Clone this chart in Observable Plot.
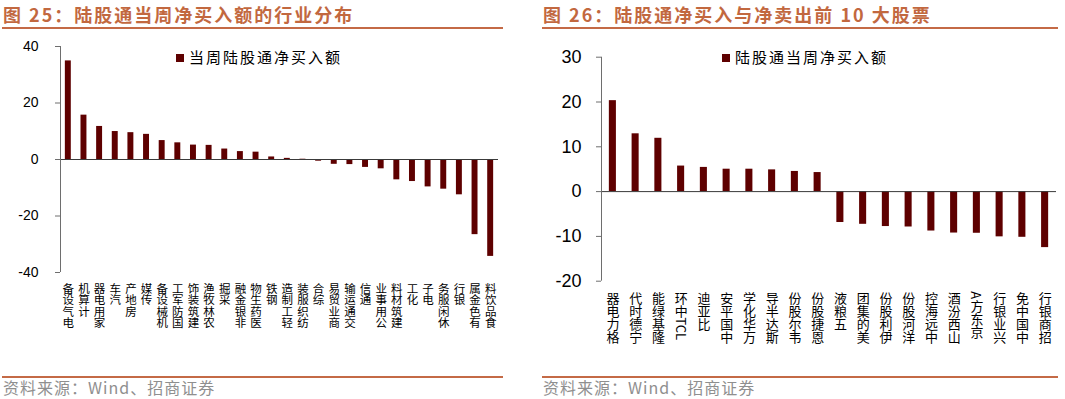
<!DOCTYPE html>
<html>
<head>
<meta charset="utf-8">
<script src="https://cdn.jsdelivr.net/npm/d3@7"></script>
<script src="https://cdn.jsdelivr.net/npm/@observablehq/plot@0.6"></script>
<style>
  html, body { margin: 0; padding: 0; background: #fff; }
  #page { position: relative; width: 1065px; height: 399px; overflow: hidden; background: #fff; font-family: "Noto Sans CJK SC", "Noto Sans", sans-serif; }
  .title { position: absolute; top: 2px; font-size: 18px; font-weight: bold; color: #c2683f; letter-spacing: 2px; white-space: nowrap; line-height: 24px; }
  .hline { position: absolute; height: 2px; background: #c46a46; }
  .source { position: absolute; top: 377px; font-size: 16px; letter-spacing: 1px; color: #8f8f8f; white-space: nowrap; line-height: 20px; }
  .legend { position: absolute; font-size: 15px; letter-spacing: 2px; color: #000; white-space: nowrap; line-height: 16px; }
  .legend .sw { display: inline-block; width: 8px; height: 8px; background: #5e0000; margin-right: 5px; vertical-align: 1px; }
  .chart { position: absolute; top: 30px; }
</style>
</head>
<body>
<div id="page">
  <div class="title" style="left:3px;">图 25：陆股通当周净买入额的行业分布</div>
  <div class="title" style="left:543px;">图 26：陆股通净买入与净卖出前 10 大股票</div>
  <div class="hline" style="left:2px; width:501px; top:27px;"></div>
  <div class="hline" style="left:542px; width:516px; top:27px;"></div>
  <div class="hline" style="left:2px; width:501px; top:376px;"></div>
  <div class="hline" style="left:542px; width:516px; top:376px;"></div>
  <div class="source" style="left:3px;">资料来源：Wind、招商证券</div>
  <div class="source" style="left:543px;">资料来源：Wind、招商证券</div>
  <div id="left" class="chart" style="left:0px;"></div>
  <div id="right" class="chart" style="left:540px;"></div>
  <div class="legend" style="left:176px; top:49px;"><span class="sw"></span>当周陆股通净买入额</div>
  <div class="legend" style="left:722px; top:49px;"><span class="sw"></span>陆股通当周净买入额</div>
</div>
<script>
// ---- Data: Figure 25 (industry net buy, 亿元) ----
const industryNames = ["电气设备","计算机","家用电器","汽车","房地产","传媒","机械设备","国防军工","建筑装饰","农林牧渔","采掘","非银金融","医药生物","钢铁","轻工制造","纺织服装","综合","商业贸易","交通运输","通信","公用事业","建筑材料","化工","电子","休闲服务","银行","有色金属","食品饮料"];
const industryValues = [34.9,15.7,11.7,9.9,9.5,8.9,6.7,5.9,5.1,5.0,3.7,2.8,2.6,0.9,0.4,0.1,-0.6,-1.7,-1.8,-2.8,-3.3,-7.2,-7.8,-9.7,-10.5,-12.5,-26.6,-34.3];
const industryTicks = [40,20,0,-20,-40];

// ---- Data: Figure 26 (top 10 net buy / sell stocks) ----
const stockNames = ["格力电器","宁德时代","隆基绿能","TCL中环","比亚迪","中国平安","万华化学","斯达半导","韦尔股份","恩捷股份","五粮液","美的集团","伊利股份","洋河股份","中远海控","山西汾酒","京东方A","兴业银行","中国中免","招商银行"];
const stockValues = [20.3,12.9,11.9,5.7,5.4,5.0,5.0,4.85,4.5,4.25,-6.9,-7.3,-7.8,-7.9,-8.8,-9.25,-9.3,-10.1,-10.2,-12.5];
const stockTicks = [30,20,10,0,-10,-20];

const BAR = "#5e0000";

// stack text bottom-to-top: reverse character runs (Latin runs kept together)
function vert(s) {
  return (s.match(/[A-Za-z0-9]+|./gu) || []).reverse().join("");
}

// vertical axis line drawn from the y scale at the left edge of the frame
function yAxisLine(domain, stroke) {
  return (index, scales, values, dims) => {
    const line = document.createElementNS("http://www.w3.org/2000/svg", "line");
    const x = dims.marginLeft + 0.5;
    line.setAttribute("x1", x);
    line.setAttribute("x2", x);
    line.setAttribute("y1", scales.y(domain[0]));
    line.setAttribute("y2", scales.y(domain[1]));
    line.setAttribute("stroke", stroke);
    return line;
  };
}

function makeChart(names, values, o) {
  const data = names.map((name, i) => ({name, value: values[i]}));
  const svg = Plot.plot({
    width: o.width,
    height: o.height,
    marginLeft: o.marginLeft,
    marginRight: o.marginRight,
    marginTop: o.marginTop,
    marginBottom: o.marginBottom,
    style: {fontFamily: "'Liberation Sans', Arial, sans-serif", color: "#000", background: "transparent", overflow: "visible"},
    x: {type: "band", domain: names, paddingInner: o.padding, paddingOuter: o.padding / 2, round: false, axis: null},
    y: {domain: o.domain, axis: null},
    marks: [
      Plot.barY(data, {x: "name", y: "value", fill: BAR}),
      Plot.ruleY([0], {stroke: "#3a3a3a", strokeWidth: 1}),
      yAxisLine(o.domain, "#6e6e6e"),
      Plot.axisY({ticks: o.ticks, label: null, tickSize: 5, tickPadding: o.tickPadding, tickFormat: d => String(d), fontSize: o.tickFont, stroke: "#6e6e6e", fill: "#000"}),
      Plot.text(data, {x: "name", text: d => vert(d.name), frameAnchor: "bottom", lineAnchor: "bottom", textAnchor: "start", dy: o.labelDy, fontSize: o.labelFont, fill: "#000"})
    ]
  });
  d3.select(svg).selectAll('g[aria-label="text"] text')
    .attr("writing-mode", "vertical-rl")
    .style("writing-mode", "vertical-rl")
    .style("font-family", "'Noto Sans CJK SC', sans-serif");
  return svg;
}

document.getElementById("left").appendChild(makeChart(industryNames, industryValues, {
  width: 540, height: 345, marginLeft: 60, marginRight: 42, marginTop: 16, marginBottom: 103,
  padding: 0.62, domain: [-40, 40], ticks: industryTicks, tickFont: 14, tickPadding: 17, labelFont: 11.5, labelDy: 10
}));
document.getElementById("right").appendChild(makeChart(stockNames, stockValues, {
  width: 525, height: 345, marginLeft: 61, marginRight: 9, marginTop: 26.7, marginBottom: 94.3,
  padding: 0.69, domain: [-20, 30], ticks: stockTicks, tickFont: 18, tickPadding: 15, labelFont: 13, labelDy: 10
}));
</script>
</body>
</html>
